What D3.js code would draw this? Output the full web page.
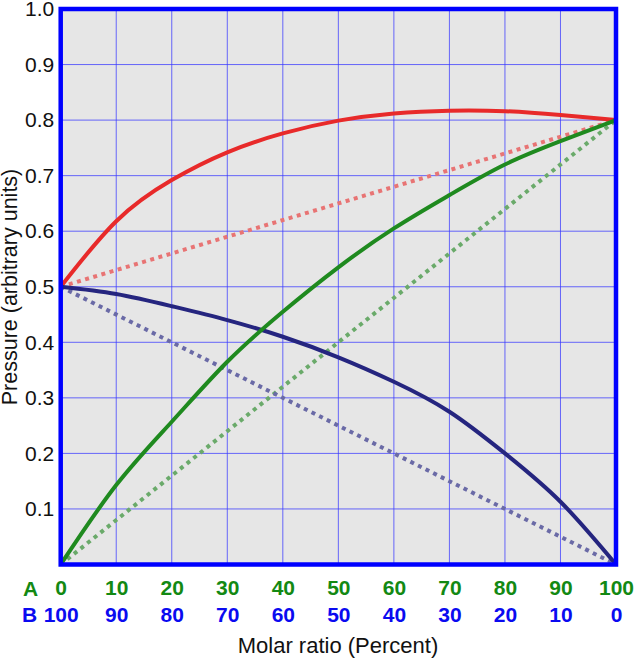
<!DOCTYPE html>
<html>
<head>
<meta charset="utf-8">
<script src="https://cdn.jsdelivr.net/npm/d3@7"></script>
<style>
  html, body { margin: 0; padding: 0; background: #fff; }
  svg { display: block; font-family: "Liberation Sans", Arial, sans-serif; }
</style>
</head>
<body>
<svg id="chart" width="634" height="658"></svg>
<script>
const molarA = [0, 10, 20, 30, 40, 50, 60, 70, 80, 90, 100];
const molarB = [100, 90, 80, 70, 60, 50, 40, 30, 20, 10, 0];
const yTicks = [0.1, 0.2, 0.3, 0.4, 0.5, 0.6, 0.7, 0.8, 0.9, 1.0];

const totalPressure = [0.5, 0.618, 0.692, 0.742, 0.776, 0.799, 0.812, 0.817, 0.816, 0.809, 0.8];
const pressureA = [0, 0.143, 0.257, 0.365, 0.455, 0.535, 0.605, 0.665, 0.72, 0.762, 0.8];
const pressureB = [0.5, 0.487, 0.465, 0.44, 0.41, 0.373, 0.329, 0.275, 0.2, 0.113, 0];

// ideal (Raoult) lines, end points only
const idealX = [0, 100];
const idealTotal = [0.5, 0.8];
const idealA = [0, 0.8];
const idealB = [0.5, 0];

const svg = d3.select("#chart");
const x = d3.scaleLinear().domain([0, 100]).range([60.7, 616]);
const y = d3.scaleLinear().domain([0, 1]).range([564.5, 9]);
const greenText = "#138913";
const blueText = "#0a0af0";

svg.append("rect")
  .attr("x", x(0)).attr("y", y(1))
  .attr("width", x(100) - x(0)).attr("height", y(0) - y(1))
  .attr("fill", "#e6e6e6");

// grid
const grid = svg.append("g")
  .attr("stroke", "#3a3aff").attr("stroke-opacity", 0.75).attr("stroke-width", 1);
grid.selectAll("line.v")
  .data(molarA.slice(1, -1))
  .join("line")
  .attr("class", "v")
  .attr("x1", (d) => x(d)).attr("x2", (d) => x(d))
  .attr("y1", y(1)).attr("y2", y(0));
grid.selectAll("line.h")
  .data(yTicks.slice(0, -1))
  .join("line")
  .attr("class", "h")
  .attr("x1", x(0)).attr("x2", x(100))
  .attr("y1", (d) => y(d)).attr("y2", (d) => y(d));

const line = d3.line()
  .x((d) => x(d[0]))
  .y((d) => y(d[1]))
  .curve(d3.curveNatural);

const dotted = [
  { values: idealTotal, color: "#e87474" },
  { values: idealA, color: "#6aaa6a" },
  { values: idealB, color: "#6a6aa6" },
];
svg.append("g")
  .selectAll("path")
  .data(dotted)
  .join("path")
  .attr("fill", "none")
  .attr("stroke", (d) => d.color)
  .attr("stroke-width", 4)
  .attr("stroke-dasharray", "4 4.5")
  .attr("d", (d) => line(idealX.map((v, i) => [v, d.values[i]])));

const solid = [
  { values: totalPressure, color: "#e82a2a" },
  { values: pressureB, color: "#25257f" },
  { values: pressureA, color: "#1f8a1f" },
];
svg.append("g")
  .selectAll("path")
  .data(solid)
  .join("path")
  .attr("fill", "none")
  .attr("stroke", (d) => d.color)
  .attr("stroke-width", 4)
  .attr("d", (d) => line(molarA.map((v, i) => [v, d.values[i]])));

// frame
svg.append("rect")
  .attr("x", x(0)).attr("y", y(1))
  .attr("width", x(100) - x(0)).attr("height", y(0) - y(1))
  .attr("fill", "none")
  .attr("stroke", "#0000ff")
  .attr("stroke-width", 4.5);

// y axis
const yAxis = svg.append("g")
  .attr("transform", `translate(${x(0)},0)`)
  .call(d3.axisLeft(y).tickValues(yTicks).tickSize(0).tickPadding(6.5).tickFormat(d3.format(".1f")));
yAxis.select(".domain").remove();
yAxis.selectAll("text")
  .attr("font-size", 21)
  .attr("font-family", "Liberation Sans, Arial, sans-serif")
  .attr("fill", "#111");

// x axis rows
const rowA = svg.append("g")
  .attr("transform", `translate(0,${y(0)})`)
  .call(d3.axisBottom(x).tickValues(molarA).tickSize(0).tickPadding(15.8).tickFormat((d) => d));
const rowB = svg.append("g")
  .attr("transform", `translate(0,${y(0)})`)
  .call(d3.axisBottom(x).tickValues(molarA).tickSize(0).tickPadding(42.5)
    .tickFormat((d, i) => molarB[i]));
[[rowA, greenText], [rowB, blueText]].forEach(([row, color]) => {
  row.select(".domain").remove();
  row.selectAll("text")
    .attr("font-size", 21)
    .attr("font-weight", "bold")
    .attr("font-family", "Liberation Sans, Arial, sans-serif")
    .attr("fill", color);
});

svg.append("text")
  .attr("x", 30.5).attr("y", 595.5)
  .attr("text-anchor", "middle")
  .attr("font-size", 21).attr("font-weight", "bold")
  .attr("fill", greenText)
  .text("A");
svg.append("text")
  .attr("x", 29.7).attr("y", 622.3)
  .attr("text-anchor", "middle")
  .attr("font-size", 21).attr("font-weight", "bold")
  .attr("fill", blueText)
  .text("B");

svg.append("text")
  .attr("x", 338).attr("y", 652.5)
  .attr("text-anchor", "middle")
  .attr("font-size", 22)
  .attr("fill", "#111")
  .text("Molar ratio (Percent)");

svg.append("text")
  .attr("transform", `translate(16.5,${287}) rotate(-90)`)
  .attr("text-anchor", "middle")
  .attr("font-size", 21.5)
  .attr("fill", "#111")
  .text("Pressure (arbitrary units)");
</script>
</body>
</html>
